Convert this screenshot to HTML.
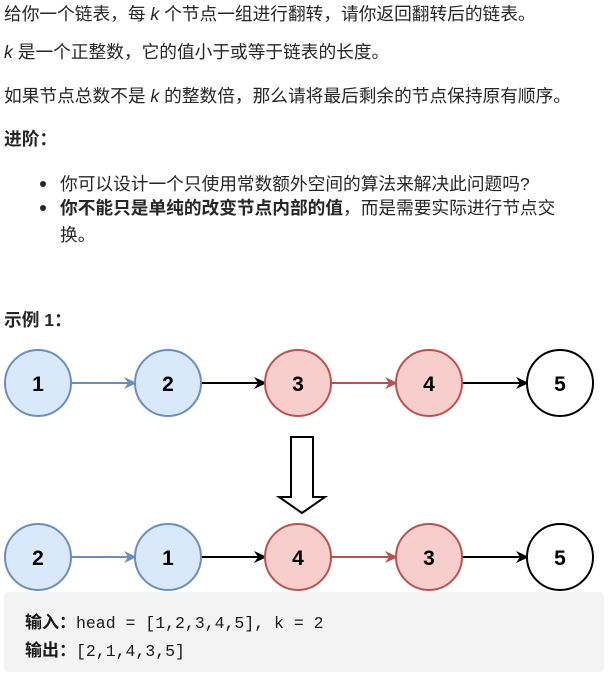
<!DOCTYPE html>
<html><head><meta charset="utf-8"><style>
body{margin:0;width:608px;height:681px;background:#fff;font-family:"Liberation Sans","Noto Sans CJK SC",sans-serif;color:#262626;font-size:17.7px;position:relative;overflow:hidden}
.t{position:absolute;left:4px;white-space:nowrap;line-height:20px}
i{font-style:italic}
.li{position:absolute;left:60px;line-height:24px}
.dot{position:absolute;left:40px;width:6px;height:6px;border-radius:50%;background:#262626}
.code{position:absolute;left:4px;top:592px;width:600px;height:80px;background:#f3f3f3;border-radius:4px}
.code div{position:absolute;left:21px;font-family:"Liberation Mono","Noto Sans CJK SC",monospace;font-size:16.5px;color:#1a1a1a;white-space:nowrap}
.code b{font-family:"Liberation Sans","Noto Sans CJK SC",sans-serif;font-size:17px}
</style></head><body>
<div class="t" style="top:4px">给你一个链表，每 <i>k</i> 个节点一组进行翻转，请你返回翻转后的链表。</div>
<div class="t" style="top:42px"><i>k</i> 是一个正整数，它的值小于或等于链表的长度。</div>
<div class="t" style="top:86px">如果节点总数不是 <i>k</i> 的整数倍，那么请将最后剩余的节点保持原有顺序。</div>
<div class="t" style="top:129px"><b>进阶：</b></div>
<div class="dot" style="top:181px"></div>
<div class="li" style="top:172px;white-space:nowrap">你可以设计一个只使用常数额外空间的算法来解决此问题吗?</div>
<div class="dot" style="top:205px"></div>
<div class="li" style="top:195px;width:528px;line-height:27px"><b>你不能只是单纯的改变节点内部的值</b>，而是需要实际进行节点交换。</div>
<div class="t" style="top:310px"><b>示例 1：</b></div>
<svg style="position:absolute;left:0;top:0" width="608" height="681">
<defs>
<marker id="ab" markerWidth="13" markerHeight="12" refX="11" refY="6" orient="auto" markerUnits="userSpaceOnUse"><path d="M0,0 L13,6 L0,12 L4,6z" fill="#6c8ebf"/></marker>
<marker id="ak" markerWidth="13" markerHeight="12" refX="11" refY="6" orient="auto" markerUnits="userSpaceOnUse"><path d="M0,0 L13,6 L0,12 L4,6z" fill="#000"/></marker>
<marker id="ar" markerWidth="13" markerHeight="12" refX="11" refY="6" orient="auto" markerUnits="userSpaceOnUse"><path d="M0,0 L13,6 L0,12 L4,6z" fill="#b85450"/></marker>
</defs>
<g font-family="Liberation Sans" font-weight="bold" font-size="21" text-anchor="middle">
<line x1="71" y1="383" x2="135" y2="383" stroke="#6c8ebf" stroke-width="2" marker-end="url(#ab)"/>
<line x1="201" y1="383" x2="265" y2="383" stroke="#000" stroke-width="2" marker-end="url(#ak)"/>
<line x1="331" y1="383" x2="396" y2="383" stroke="#b85450" stroke-width="2" marker-end="url(#ar)"/>
<line x1="462" y1="383" x2="527" y2="383" stroke="#000" stroke-width="2" marker-end="url(#ak)"/>
<ellipse cx="38" cy="383" rx="33" ry="33" fill="#dae8fc" stroke="#6c8ebf" stroke-width="2"/>
<ellipse cx="168" cy="383" rx="33" ry="33" fill="#dae8fc" stroke="#6c8ebf" stroke-width="2"/>
<ellipse cx="298" cy="383" rx="33" ry="33" fill="#f8cecc" stroke="#b85450" stroke-width="2"/>
<ellipse cx="429" cy="383" rx="33" ry="33" fill="#f8cecc" stroke="#b85450" stroke-width="2"/>
<ellipse cx="560" cy="383" rx="33" ry="33" fill="#fff" stroke="#000" stroke-width="2"/>
<text x="38" y="391">1</text><text x="168" y="391">2</text><text x="298" y="391">3</text><text x="429" y="391">4</text><text x="560" y="391">5</text>
<line x1="71" y1="557" x2="135" y2="557" stroke="#6c8ebf" stroke-width="2" marker-end="url(#ab)"/>
<line x1="201" y1="557" x2="265" y2="557" stroke="#000" stroke-width="2" marker-end="url(#ak)"/>
<line x1="331" y1="557" x2="396" y2="557" stroke="#b85450" stroke-width="2" marker-end="url(#ar)"/>
<line x1="462" y1="557" x2="527" y2="557" stroke="#000" stroke-width="2" marker-end="url(#ak)"/>
<ellipse cx="38" cy="557" rx="33" ry="33" fill="#dae8fc" stroke="#6c8ebf" stroke-width="2"/>
<ellipse cx="168" cy="557" rx="33" ry="33" fill="#dae8fc" stroke="#6c8ebf" stroke-width="2"/>
<ellipse cx="298" cy="557" rx="33" ry="33" fill="#f8cecc" stroke="#b85450" stroke-width="2"/>
<ellipse cx="429" cy="557" rx="33" ry="33" fill="#f8cecc" stroke="#b85450" stroke-width="2"/>
<ellipse cx="560" cy="557" rx="33" ry="33" fill="#fff" stroke="#000" stroke-width="2"/>
<text x="38" y="565">2</text><text x="168" y="565">1</text><text x="298" y="565">4</text><text x="429" y="565">3</text><text x="560" y="565">5</text>
</g>
<path d="M291,437 L313,437 L313,497 L325,497 L302,513 L279,497 L291,497 Z" fill="#fff" stroke="#000" stroke-width="2"/>
</svg>
<div class="code"><div style="top:16px"><b>输入：</b>head = [1,2,3,4,5], k = 2</div><div style="top:44px"><b>输出：</b>[2,1,4,3,5]</div></div>
</body></html>
